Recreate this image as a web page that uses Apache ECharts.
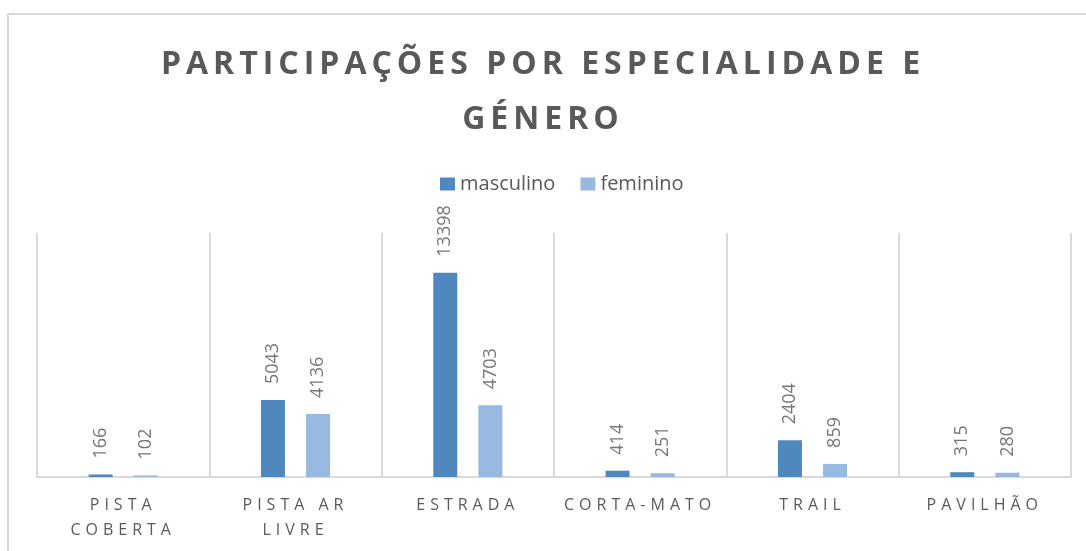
<!DOCTYPE html>
<html>
<head>
<meta charset="utf-8">
<script src="https://cdn.jsdelivr.net/npm/echarts@6/dist/echarts.min.js"></script>
<style>
html,body{margin:0;padding:0;background:#fff;}
#chart{width:1086px;height:551px;}
</style>
</head>
<body>
<div id="chart"></div>
<script>
const titleText = 'PARTICIPAÇÕES POR ESPECIALIDADE E\nGÉNERO';
const categories = ['PISTA\nCOBERTA', 'PISTA AR\nLIVRE', 'ESTRADA', 'CORTA-MATO', 'TRAIL', 'PAVILHÃO'];
const seriesNames = ['masculino', 'feminino'];
const masculino = [166, 5043, 13398, 414, 2404, 315];
const feminino = [102, 4136, 4703, 251, 859, 280];

// letter spacing for title and category labels (canvas letterSpacing)
const spacing = new Map();
titleText.split('\n').forEach(t => spacing.set(t, '5px'));
categories.forEach(c => c.split('\n').forEach(t => spacing.set(t, '5px')));
(function () {
  const P = CanvasRenderingContext2D.prototype;
  if (!('letterSpacing' in P)) return;
  function apply(ctx, ls) {
    if (ctx.letterSpacing !== ls) {
      ctx.letterSpacing = ls;
      const f = ctx.font;
      ctx.font = '10px serif';
      ctx.font = f;
    }
  }
  ['fillText', 'measureText', 'strokeText'].forEach(fn => {
    const orig = P[fn];
    P[fn] = function (text) {
      const ls = spacing.get(String(text)) || '0px';
      apply(this, ls);
      const r = orig.apply(this, arguments);
      apply(this, '0px');
      return r;
    };
  });
})();

const chart = echarts.init(document.getElementById('chart'), null, { renderer: 'canvas' });
const labelCfg = {
  show: true,
  position: 'top',
  rotate: 90,
  align: 'left',
  verticalAlign: 'middle',
  distance: 16,
  color: '#767676',
  fontSize: 18,
  fontFamily: 'Open Sans'
};
chart.setOption({
  animation: false,
  backgroundColor: '#ffffff',
  graphic: [{
    type: 'rect',
    z: -10,
    shape: { x: 8, y: 14, width: 1200, height: 700 },
    style: { fill: 'none', stroke: '#d9d9d9', lineWidth: 2 }
  }],
  title: {
    text: titleText,
    left: 'center',
    top: 32,
    textStyle: {
      fontFamily: 'Open Sans',
      fontWeight: 'bold',
      fontSize: 32,
      lineHeight: 55,
      color: '#595959'
    }
  },
  legend: {
    top: 169,
    left: 435,
    icon: 'rect',
    itemWidth: 15,
    itemHeight: 13,
    itemGap: 25,
    textStyle: { fontFamily: 'Open Sans', fontSize: 20, color: '#595959' },
    data: seriesNames
  },
  grid: { left: 37, right: 15, top: 233, bottom: 74, containLabel: false },
  xAxis: {
    type: 'category',
    data: categories,
    axisLine: { lineStyle: { color: '#d9d9d9', width: 2 } },
    axisTick: { show: false },
    splitLine: { show: true, lineStyle: { color: '#d9d9d9', width: 2 } },
    axisLabel: {
      interval: 0,
      margin: 16,
      fontFamily: 'Open Sans',
      fontSize: 16,
      lineHeight: 25,
      color: '#595959'
    }
  },
  yAxis: {
    type: 'value',
    min: 0,
    max: 16000,
    show: false,
    splitLine: { show: false }
  },
  series: [
    {
      name: seriesNames[0],
      type: 'bar',
      data: masculino,
      barWidth: 24,
      barGap: '88%',
      itemStyle: { color: '#4f88bc' },
      label: labelCfg
    },
    {
      name: seriesNames[1],
      type: 'bar',
      data: feminino,
      barWidth: 24,
      barGap: '88%',
      itemStyle: { color: '#98b9df' },
      label: labelCfg
    }
  ]
});
</script>
</body>
</html>
